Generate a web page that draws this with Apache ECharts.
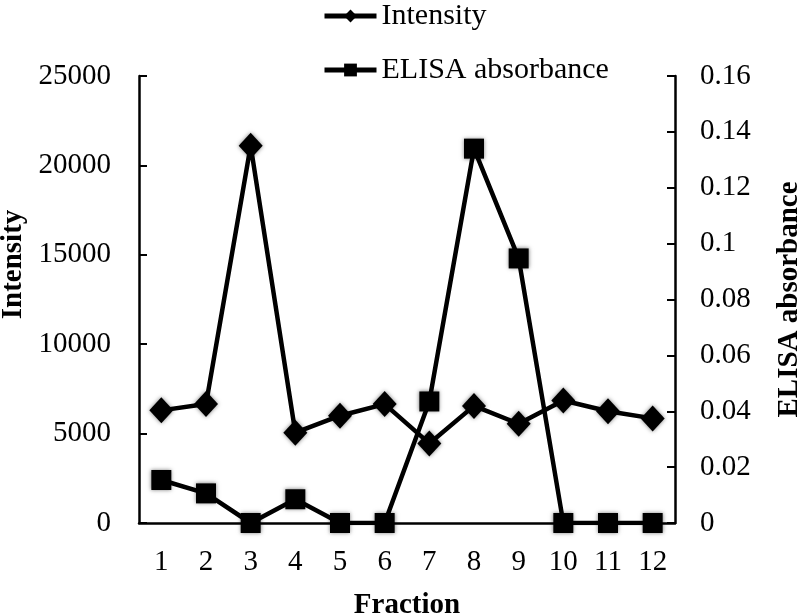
<!DOCTYPE html>
<html><head><meta charset="utf-8">
<script src="https://cdn.jsdelivr.net/npm/echarts@6/dist/echarts.min.js"></script>
<style>html,body{margin:0;padding:0;background:#fff}#c{width:800px;height:613px}</style>
</head><body><div id="c"></div>
<script>
const categories = ['1','2','3','4','5','6','7','8','9','10','11','12'];
const intensity = [6300, 6650, 21100, 5050, 6000, 6650, 4450, 6550, 5550, 6850, 6250, 5850];
const elisa = [0.0154, 0.0106, 0, 0.0085, 0, 0, 0.0435, 0.134, 0.0947, 0, 0, 0];
const leftTicks = [0, 5000, 10000, 15000, 20000, 25000];
const rightTicks = [0, 0.02, 0.04, 0.06, 0.08, 0.1, 0.12, 0.14, 0.16];

const F = '"Liberation Serif","Times New Roman",serif';
const chart = echarts.init(document.getElementById('c'));
chart.setOption({
  animation:false,
  backgroundColor:'#fff',
  textStyle:{fontFamily:F, color:'#000'},
  legend:{
    orient:'vertical', left:322, top:1, padding:0, itemWidth:52, itemHeight:16, itemGap:24,
    lineStyle:{width:5},
    textStyle:{fontFamily:F, fontSize:30, color:'#000', padding:[0,0,0,0]},
    data:['Intensity','ELISA absorbance']
  },
  grid:{left:139, right:125, top:76, bottom:90, containLabel:false, outerBoundsMode:'none'},
  xAxis:{
    type:'category', data:categories, boundaryGap:true,
    name:'Fraction', nameLocation:'middle', nameGap:68,
    nameTextStyle:{fontFamily:F, fontSize:29, fontWeight:'bold', color:'#000'},
    axisLine:{lineStyle:{color:'#000', width:2.5}},
    axisTick:{inside:true, length:8, lineStyle:{color:'#000', width:2}},
    axisLabel:{fontFamily:F, fontSize:29, color:'#000', margin:25},
    splitLine:{show:false}
  },
  yAxis:[{
    type:'value', min:0, max:25000, interval:5000,
    name:'Intensity', nameLocation:'middle', nameGap:110, nameRotate:90,
    nameTextStyle:{fontFamily:F, fontSize:29, fontWeight:'bold', color:'#000', padding:[0,0,0,70]},
    axisLine:{show:true, lineStyle:{color:'#000', width:2.5}},
    axisTick:{show:true, inside:true, length:8, lineStyle:{color:'#000', width:2}},
    axisLabel:{fontFamily:F, fontSize:29, color:'#000', margin:28,
      formatter:function(v){return String(v);}},
    splitLine:{show:false}
  },{
    type:'value', min:0, max:0.16, interval:0.02, position:'right',
    name:'ELISA absorbance', nameLocation:'middle', nameGap:100, nameRotate:90,
    nameTextStyle:{fontFamily:F, fontSize:29, fontWeight:'bold', color:'#000'},
    axisLine:{show:true, lineStyle:{color:'#000', width:2.5}},
    axisTick:{show:true, inside:true, length:8, lineStyle:{color:'#000', width:2}},
    axisLabel:{fontFamily:F, fontSize:29, color:'#000', margin:25,
      formatter:function(v){return String(parseFloat(v.toFixed(2)));}},
    splitLine:{show:false}
  }],
  series:[{
    name:'Intensity', type:'line', yAxisIndex:0, data:intensity,
    symbol:'diamond', symbolSize:[24,26],
    lineStyle:{color:'#000', width:4.5},
    itemStyle:{color:'#000', shadowBlur:4, shadowColor:'rgba(0,0,0,0.5)'}
  },{
    name:'ELISA absorbance', type:'line', yAxisIndex:1, data:elisa,
    symbol:'rect', symbolSize:20,
    lineStyle:{color:'#000', width:4.5},
    itemStyle:{color:'#000', shadowBlur:4, shadowColor:'rgba(0,0,0,0.5)'}
  }]
});
</script></body></html>
